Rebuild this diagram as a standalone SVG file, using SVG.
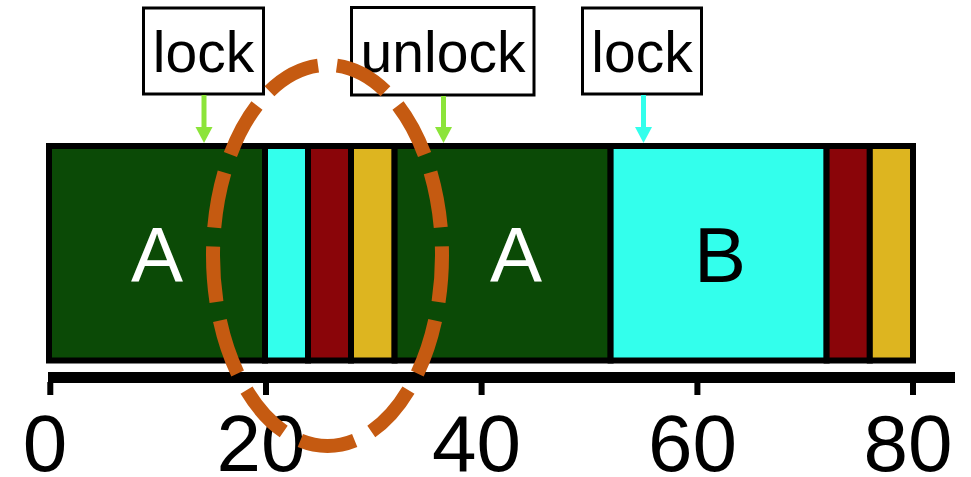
<svg xmlns="http://www.w3.org/2000/svg" width="971" height="477" viewBox="0 0 971 477">
  <style>
    .seg { stroke: #000; stroke-width: 6; }
    .a { fill: #0B4A06; }
    .c { fill: #33FFEC; }
    .r { fill: #8A0509; }
    .y { fill: #DDB520; }
    .big { font-family: "Liberation Sans", Arial, sans-serif; font-size: 78px; text-anchor: middle; }
    .box { fill: #fff; stroke: #000; stroke-width: 3; }
    .lbl { font-family: "Liberation Sans", Arial, sans-serif; font-size: 57px; text-anchor: middle; fill: #000; }
    .num { font-family: "Liberation Sans", Arial, sans-serif; font-size: 80px; text-anchor: middle; fill: #000; }
    .tick { stroke: #000; stroke-width: 6; }
  </style>

  <rect width="971" height="477" fill="#fff"/>

  <!-- timeline bar: one segment per time slice -->
  <g id="bar">
    <g id="seg-a1"><rect class="seg a" x="49" y="146" width="216" height="214.5"/><text class="big" x="157" y="282" fill="#fff">A</text></g>
    <g id="seg-c1"><rect class="seg c" x="265" y="146" width="43" height="214.5"/></g>
    <g id="seg-r1"><rect class="seg r" x="308" y="146" width="43" height="214.5"/></g>
    <g id="seg-y1"><rect class="seg y" x="351" y="146" width="43.6" height="214.5"/></g>
    <g id="seg-a2"><rect class="seg a" x="394.6" y="146" width="216" height="214.5"/><text class="big" x="516" y="282" fill="#fff">A</text></g>
    <g id="seg-b"><rect class="seg c" x="610.6" y="146" width="216" height="214.5"/><text class="big" x="720" y="282" fill="#000">B</text></g>
    <g id="seg-r2"><rect class="seg r" x="826.6" y="146" width="43.2" height="214.5"/></g>
    <g id="seg-y2"><rect class="seg y" x="869.8" y="146" width="43.2" height="214.5"/></g>
  </g>

  <!-- event labels -->
  <g id="label-lock1"><rect class="box" x="143.5" y="8" width="120" height="86"/><text class="lbl" x="203.5" y="72">lock</text></g>
  <g id="label-unlock"><rect class="box" x="351.5" y="7.5" width="182.5" height="87.5"/><text class="lbl" x="443" y="72">unlock</text></g>
  <g id="label-lock2"><rect class="box" x="582.5" y="8" width="119" height="86"/><text class="lbl" x="642" y="72">lock</text></g>

  <!-- arrows from labels to the bar -->
  <g id="connectors">
    <line x1="204" y1="95" x2="204" y2="128" stroke="#8CE43A" stroke-width="5"/>
    <polygon points="195.5,127 212.5,127 204,143" fill="#8CE43A"/>
    <line x1="443.5" y1="96" x2="443.5" y2="128" stroke="#8CE43A" stroke-width="5"/>
    <polygon points="435,127 452,127 443.5,143" fill="#8CE43A"/>
    <line x1="643.5" y1="95" x2="643.5" y2="128" stroke="#33FFEC" stroke-width="5"/>
    <polygon points="635,127 652,127 643.5,143" fill="#33FFEC"/>
  </g>

  <!-- time axis -->
  <g id="axis">
    <rect x="48" y="372" width="907" height="11" fill="#000"/>
    <line class="tick" x1="50.3" y1="382" x2="50.3" y2="395"/>
    <line class="tick" x1="266" y1="382" x2="266" y2="395"/>
    <line class="tick" x1="481.6" y1="382" x2="481.6" y2="395"/>
    <line class="tick" x1="697.4" y1="382" x2="697.4" y2="395"/>
    <line class="tick" x1="913" y1="382" x2="913" y2="395"/>
    <text class="num" x="45" y="471">0</text>
    <text class="num" x="261" y="471">20</text>
    <text class="num" x="476.6" y="471">40</text>
    <text class="num" x="692.4" y="471">60</text>
    <text class="num" x="908" y="471">80</text>
  </g>

  <!-- highlight ring -->
  <g id="highlight">
    <ellipse cx="327.5" cy="255.5" rx="114.5" ry="190.5" fill="none" stroke="#C55A11" stroke-width="14" pathLength="1000" stroke-dasharray="57.5 19.42" stroke-dashoffset="9.52"/>
  </g>
</svg>
